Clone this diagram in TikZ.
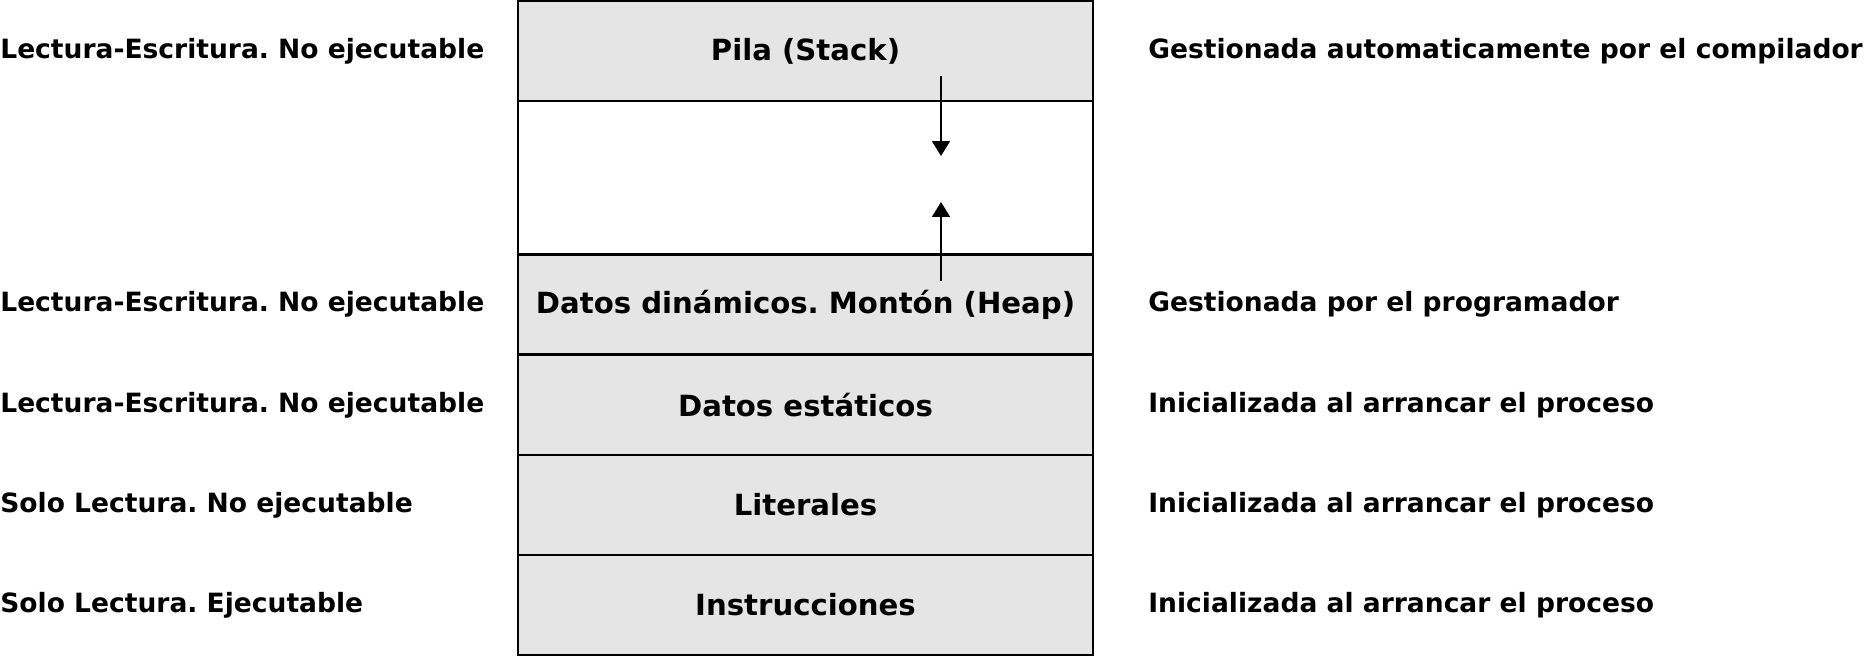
\documentclass[tikz,border=0pt]{standalone}
\usepackage{fontspec}
\setmainfont{DejaVu Sans}
\frenchspacing
\usetikzlibrary{positioning,arrows.meta}
\tikzset{%
	every segment/.style={
		rectangle,
		draw,
		line width=1.35pt,
		fill=black!10,
		minimum width=11.5cm,
		minimum height=2cm,
		inner sep=0pt,
		font=\fontsize{16.6}{20}\selectfont\bfseries
	},
	segment free/.style={
		fill=white,
		minimum height=3.06cm
	},
	side label/.style={
		anchor=west,
		inner sep=0pt,
		font=\fontsize{15.1}{18}\selectfont\bfseries
	},
}

\begin{document}
\begin{tikzpicture}[x=0.02cm, y=0.02cm, >={Triangle[length=0.3cm, width=0.36cm]}]
	
	\useasboundingbox (0,0) rectangle (1866,657);
	
	% memory segments, top to bottom
	\foreach \m/\l/\y in {stack/{Pila (Stack)}/606, free/{}/479.5, heap/{Datos dinámicos. Montón (Heap)}/352.5, static/{Datos estáticos}/252, literal/{Literales}/152, code/{Instrucciones}/52}
	\node [every segment/.try, segment \m/.try] (seg-\m) at (805.5,\y) {\l};
	
	% access rights
	\foreach \m/\l in {stack/{Lectura-Escritura. No ejecutable}, heap/{Lectura-Escritura. No ejecutable}, static/{Lectura-Escritura. No ejecutable}, literal/{Solo Lectura. No ejecutable}, code/{Solo Lectura. Ejecutable}}
	\node [side label] (rights-\m) at (0,0 |- seg-\m) {\l};
	
	% who manages it
	\foreach \m/\l in {stack/{Gestionada automaticamente por el compilador}, heap/{Gestionada por el programador}, static/{Inicializada al arrancar el proceso}, literal/{Inicializada al arrancar el proceso}, code/{Inicializada al arrancar el proceso}}
	\node [side label] (owner-\m) at (1148,0 |- seg-\m) {\l};
	
	% growth of stack and heap
	\coordinate (stack-from) at (941,581);
	\coordinate (stack-to) at (941,501);
	\coordinate (heap-from) at (941,376);
	\coordinate (heap-to) at (941,455);
	\draw [->, line width=1pt] (stack-from) -- (stack-to);
	\draw [->, line width=1pt] (heap-from) -- (heap-to);
	
\end{tikzpicture}
\end{document}
